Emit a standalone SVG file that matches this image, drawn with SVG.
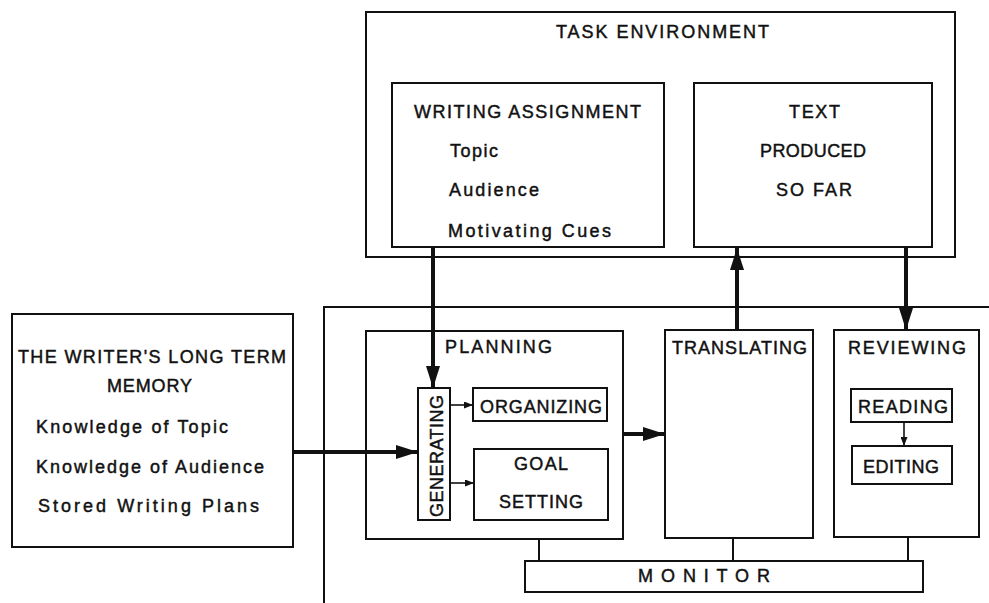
<svg xmlns="http://www.w3.org/2000/svg" width="989" height="603" viewBox="0 0 989 603">
<defs>
<style>
.box{fill:none;stroke:#111;stroke-width:2}
.thick{fill:none;stroke:#111;stroke-width:4}
.thin{fill:none;stroke:#111;stroke-width:1.6}
text{font-family:"Liberation Sans","DejaVu Sans",sans-serif;font-size:18px;fill:#111;stroke:#111;stroke-width:0.45}
</style>
<marker id="big" markerUnits="userSpaceOnUse" markerWidth="22" markerHeight="14" refX="22" refY="7" orient="auto">
<path d="M0,0 L22,7 L0,14 z" fill="#111"/>
</marker>
<marker id="small" markerUnits="userSpaceOnUse" markerWidth="9" markerHeight="7" refX="9" refY="3.5" orient="auto">
<path d="M0,0 L9,3.5 L0,7 z" fill="#111"/>
</marker>
</defs>
<rect width="989" height="603" fill="#fff"/>

<g id="task-environment">
<rect class="box" x="366" y="12" width="589" height="245"/>
<text x="556" y="38" textLength="213" lengthAdjust="spacing">TASK ENVIRONMENT</text>
</g>
<g id="writing-assignment">
<rect class="box" x="392" y="83" width="272" height="164"/>
<text x="414" y="118" textLength="227" lengthAdjust="spacing">WRITING ASSIGNMENT</text>
<text x="450" y="157" textLength="48" lengthAdjust="spacing">Topic</text>
<text x="449" y="196" textLength="90" lengthAdjust="spacing">Audience</text>
<text x="448" y="237" textLength="163" lengthAdjust="spacing">Motivating Cues</text>
</g>
<g id="text-produced">
<rect class="box" x="694" y="83" width="238" height="164"/>
<text x="789" y="118" textLength="51" lengthAdjust="spacing">TEXT</text>
<text x="760" y="157" textLength="106" lengthAdjust="spacing">PRODUCED</text>
<text x="776" y="196" textLength="76" lengthAdjust="spacing">SO FAR</text>
</g>
<g id="writing-processes">
<path class="box" d="M324,603 L324,307 L989,307"/>
</g>
<g id="long-term-memory">
<rect class="box" x="12" y="314" width="281" height="233"/>
<text x="18" y="363" textLength="268" lengthAdjust="spacing">THE WRITER'S LONG TERM</text>
<text x="107" y="392" textLength="85" lengthAdjust="spacing">MEMORY</text>
<text x="36" y="433" textLength="192" lengthAdjust="spacing">Knowledge of Topic</text>
<text x="36" y="473" textLength="228" lengthAdjust="spacing">Knowledge of Audience</text>
<text x="38" y="512" textLength="221" lengthAdjust="spacing">Stored Writing Plans</text>
</g>
<g id="planning">
<rect class="box" x="366" y="331" width="257" height="208"/>
<text x="445" y="353" textLength="107" lengthAdjust="spacing">PLANNING</text>
</g>
<g id="generating">
<rect class="box" x="418" y="388" width="32" height="132"/>
<text transform="translate(443,517) rotate(-90)" x="0" y="0" font-size="19" textLength="122" lengthAdjust="spacing">GENERATING</text>
</g>
<g id="organizing">
<rect class="box" x="473" y="388" width="134" height="33"/>
<text x="480" y="413" textLength="122" lengthAdjust="spacing">ORGANIZING</text>
</g>
<g id="goal-setting">
<rect class="box" x="474" y="449" width="134" height="71"/>
<text x="514" y="470" textLength="54" lengthAdjust="spacing">GOAL</text>
<text x="499" y="508" textLength="84" lengthAdjust="spacing">SETTING</text>
</g>
<g id="translating">
<rect class="box" x="665" y="330" width="148" height="208"/>
<text x="672" y="354" textLength="135" lengthAdjust="spacing">TRANSLATING</text>
</g>
<g id="reviewing">
<rect class="box" x="834" y="330" width="145" height="207"/>
<text x="848" y="354" textLength="118" lengthAdjust="spacing">REVIEWING</text>
</g>
<g id="reading">
<rect class="box" x="851" y="389" width="101" height="33"/>
<text x="858" y="413" textLength="90" lengthAdjust="spacing">READING</text>
</g>
<g id="editing">
<rect class="box" x="852" y="446" width="100" height="38"/>
<text x="863" y="473" textLength="76" lengthAdjust="spacing">EDITING</text>
</g>
<g id="monitor">
<rect class="box" x="525" y="561" width="398" height="31"/>
<text x="638" y="582" textLength="132" lengthAdjust="spacing">M O N I T O R</text>
</g>

<g id="connectors">
<line class="thick" x1="433" y1="247" x2="433" y2="388" marker-end="url(#big)"/>
<line class="thick" x1="293" y1="452" x2="418" y2="452" marker-end="url(#big)"/>
<line class="thick" x1="623" y1="434" x2="665" y2="434" marker-end="url(#big)"/>
<line class="thick" x1="737" y1="330" x2="737" y2="248" marker-end="url(#big)"/>
<line class="thick" x1="906" y1="247" x2="906" y2="330" marker-end="url(#big)"/>
<line class="thin" x1="450" y1="405" x2="473" y2="405" marker-end="url(#small)"/>
<line class="thin" x1="450" y1="483" x2="474" y2="483" marker-end="url(#small)"/>
<line class="thin" x1="904" y1="422" x2="904" y2="446" marker-end="url(#small)"/>
<line class="box" x1="539" y1="539" x2="539" y2="561"/>
<line class="box" x1="733" y1="538" x2="733" y2="561"/>
<line class="box" x1="908" y1="537" x2="908" y2="561"/>
</g>
</svg>
